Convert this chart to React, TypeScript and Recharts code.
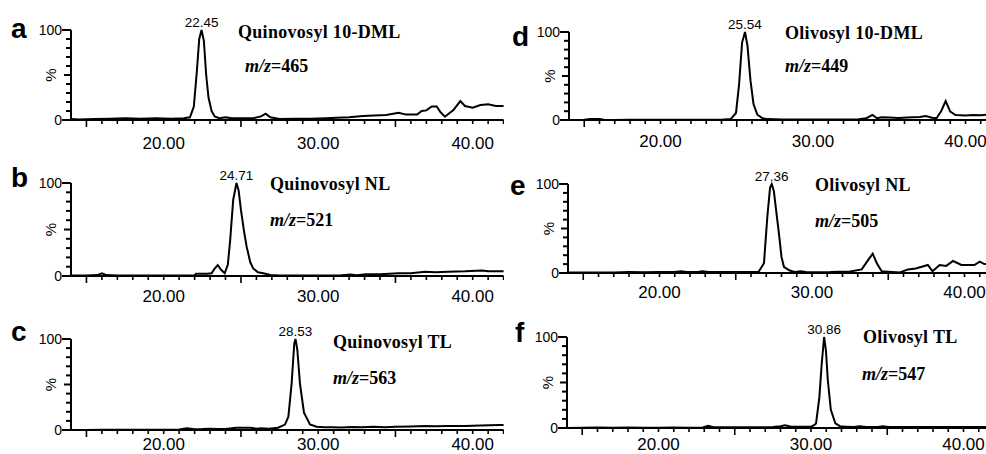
import { LineChart, Line, XAxis, YAxis, ReferenceDot } from 'recharts';

// retention time (min) vs relative intensity (%)
const traceA = [
  [14, 1], [14.5, 0.5], [15.5, 1], [16.5, 1.5], [17.5, 2], [18.5, 1.5], [19.5, 2], [20.5, 1.5], [21.3, 2], [21.7, 3],
  [21.95, 15], [22.15, 55], [22.3, 90], [22.45, 100], [22.6, 88], [22.75, 50], [22.9, 25], [23.1, 10], [23.3, 4], [23.6, 2],
  [24, 3], [24.4, 2], [25, 2], [25.8, 2], [26.3, 4], [26.6, 7], [26.9, 3], [27.5, 1], [28.5, 1.5], [29.5, 1.5],
  [30.5, 2], [31.2, 2.6], [32, 3], [32.9, 4.4], [33.6, 5], [34.4, 5.6], [35.2, 8], [35.7, 6], [36.4, 6], [36.7, 10],
  [37, 10.7], [37.35, 15], [37.67, 15], [37.9, 9], [38.2, 3.7], [38.75, 11], [39.2, 21], [39.5, 15.5], [40, 13.7], [40.5, 16.7],
  [41, 17.4], [41.5, 15.5], [42, 15.5],
];
const traceB = [
  [14, 0.5], [15, 0.5], [15.7, 1], [16, 3], [16.3, 1], [17, 0.5], [18, 0.5], [19, 0.5], [20, 0.5], [21, 0.5],
  [22, 0.8], [22.1, 2.5], [22.8, 2.5], [23.1, 3], [23.3, 8], [23.5, 11.8], [23.7, 7], [23.95, 3], [24.15, 12], [24.3, 38],
  [24.5, 82], [24.71, 100], [24.85, 92], [25, 71], [25.2, 48], [25.37, 31.5], [25.6, 15], [25.8, 8], [26.1, 4], [26.45, 3],
  [26.9, 1], [27.5, 0.5], [28.5, 0.5], [29.5, 0.5], [30.5, 0.5], [31.5, 0.8], [32.1, 1.5], [32.5, 0.8], [33.1, 2], [34, 2],
  [35.2, 3], [36, 3], [36.9, 4.5], [37.6, 4], [38.4, 4.5], [39.5, 5], [40.6, 6], [41, 5], [42, 5],
];
const traceC = [
  [14, 0], [15, 0], [16, 0.2], [17, 0.3], [18, 0.3], [19, 0.3], [20, 0.3], [21, 0.5], [21.5, 2], [22, 0.8],
  [22.5, 1], [23, 1.5], [23.5, 1], [24, 1.2], [24.7, 2.5], [25.6, 2.5], [26, 1.5], [26.3, 2], [26.8, 1.5], [27.4, 2.5],
  [27.85, 6], [28.07, 14.6], [28.28, 51], [28.45, 95], [28.53, 100], [28.65, 88], [28.82, 51], [29.08, 19], [29.47, 6], [29.9, 3.5],
  [30.4, 3], [30.9, 3], [31.5, 2.8], [32.2, 3.2], [32.8, 3], [33.6, 3.6], [34.3, 3], [35, 3.5], [36, 3.8], [36.9, 4.4],
  [37.6, 4], [38.3, 4.5], [39.5, 4.4], [40.5, 5], [41.7, 5.5], [42, 5.5],
];
const traceD = [
  [14, 0], [15, 0.3], [15.4, 1], [16, 1], [16.3, 0.3], [17, 0], [18, 0.2], [19, 0.2], [20, 0.2], [21, 0.2],
  [22, 0.2], [23, 0.3], [24, 0.3], [24.6, 1], [24.95, 8], [25.15, 40], [25.35, 88], [25.54, 100], [25.7, 85], [25.9, 45],
  [26.1, 18], [26.35, 6], [26.7, 2], [27, 1], [28, 0.5], [29, 0.5], [30, 0.5], [31, 0.5], [32, 0.5], [33, 0.8],
  [33.5, 2], [33.9, 5.7], [34.2, 2], [34.5, 3], [35, 2.8], [35.6, 2.3], [36.5, 3], [37, 3.5], [37.4, 4.5], [37.8, 2.6],
  [38.1, 2], [38.4, 10], [38.7, 21.6], [39, 9.5], [39.35, 5.7], [39.7, 5.5], [40, 5], [40.5, 5.7], [41, 5.5], [41.5, 6], [42, 6],
];
const traceE = [
  [14, 0.5], [15, 0.5], [16, 0.7], [17, 0.5], [18, 1], [19, 0.8], [20, 1], [21, 1], [21.4, 2], [21.8, 1],
  [22.5, 1.2], [22.8, 2], [23.2, 1], [24, 1], [25, 1], [26, 1], [26.5, 1.5], [26.85, 11], [27.07, 63], [27.25, 96],
  [27.36, 100], [27.5, 92], [27.65, 70], [27.83, 44.6], [28, 18], [28.16, 7], [28.5, 3], [28.9, 1], [29.24, 2], [29.6, 1],
  [30.5, 0.8], [31.2, 1], [31.7, 1.5], [32.5, 1.8], [33.26, 4], [33.7, 15], [33.98, 21.7], [34.25, 11], [34.57, 2], [35, 1.5],
  [35.77, 0.5], [36.3, 4], [36.8, 5], [37.2, 7], [37.6, 9], [37.9, 2], [38.37, 9], [38.8, 8], [39.25, 13.5], [39.8, 9],
  [40.3, 9], [40.65, 9], [41, 12.7], [41.3, 10], [42, 10],
];
const traceF = [
  [14, 0], [15, 0.2], [16, 0.5], [17, 0.3], [18, 0.5], [19, 0.3], [20, 0.3], [21, 0.5], [22, 0.3], [22.9, 0.5],
  [23.26, 2.5], [23.6, 0.8], [24.5, 0.8], [25.5, 0.8], [26.5, 0.8], [27.5, 1], [28, 2], [28.3, 3], [28.7, 1.5], [29.3, 1.5],
  [30, 1.5], [30.2, 3], [30.33, 5], [30.55, 34], [30.7, 70], [30.86, 100], [30.98, 85], [31.1, 53], [31.3, 20], [31.6, 5],
  [31.9, 2], [32.3, 1.5], [32.8, 1], [33.2, 2], [33.6, 1], [34.4, 1], [34.7, 2], [35.1, 1], [36, 1], [37, 1],
  [38, 1], [39, 1.2], [40, 1], [41, 1], [42, 1.2],
];

const peaks = [22.45, 24.71, 28.53, 25.54, 27.36, 30.86];
const letters = ['a', 'b', 'c', 'd', 'e', 'f'];
const titles = ['Quinovosyl 10-DML', 'Quinovosyl NL', 'Quinovosyl TL', 'Olivosyl 10-DML', 'Olivosyl NL', 'Olivosyl TL'];
const mzValues = [465, 521, 563, 449, 505, 547];

const xTicks = [15, 16, 17, 18, 19, 20, 21, 22, 23, 24, 25, 26, 27, 28, 29, 30, 31, 32, 33, 34, 35, 36, 37, 38, 39, 40, 41, 42];
const xLabelTicks = [20, 30, 40];
const yTicks = [0, 10, 20, 30, 40, 50, 60, 70, 80, 90, 100];

const SANS = '"Liberation Sans", Arial, sans-serif';
const SERIF = '"Liberation Serif", "Times New Roman", serif';

// layout: y-axis x, y of 100 %, y of 0 %, px per minute, x label baseline offset, text spots
const panels = [
  { trace: traceA, axisX: 71, top: 30, bottom: 120, ppu: 15.45, labelDy: 29, letter: [11, 38], title: [238, 38], mz: [245, 72] },
  { trace: traceB, axisX: 71, top: 183, bottom: 276, ppu: 15.45, labelDy: 26, letter: [11, 187], title: [270, 190], mz: [270, 226] },
  { trace: traceC, axisX: 71, top: 339, bottom: 430, ppu: 15.45, labelDy: 20, letter: [11, 341], title: [333, 348], mz: [333, 384] },
  { trace: traceD, axisX: 569, top: 32, bottom: 120, ppu: 15.25, labelDy: 27, letter: [512, 46], title: [785, 39], mz: [785, 72] },
  { trace: traceE, axisX: 568, top: 184, bottom: 273, ppu: 15.25, labelDy: 25, letter: [510, 195], title: [815, 191], mz: [815, 227] },
  { trace: traceF, axisX: 567, top: 337, bottom: 428, ppu: 15.25, labelDy: 22, letter: [515, 342], title: [863, 343], mz: [862, 380] },
];

const Y_W = 40;
const TOP_M = 20;
const X_H = 34;

function XTick({ x, y, payload, labelDy }: any) {
  const v = payload.value;
  const len = v % 5 === 0 && v % 10 !== 0 ? 7 : 4;
  return (
    <g>
      <line x1={x} x2={x} y1={y} y2={y + len} stroke="#000" strokeWidth={1.6} />
      {xLabelTicks.includes(v) && (
        <text x={x} y={y + labelDy} textAnchor="middle" fontSize={17} fontFamily={SANS} fill="#000">
          {v.toFixed(2)}
        </text>
      )}
    </g>
  );
}

function YTick({ x, y, payload }: any) {
  const v = Math.round(payload.value);
  const len = v === 0 || v === 100 ? 9 : v === 50 ? 7 : 5;
  return (
    <g>
      <path d={`M${x - len},${y}H${x}`} stroke="#000" strokeWidth={2} fill="none" />
      {(v === 0 || v === 100) && (
        <text x={x - 9} y={y + 5} textAnchor="end" fontSize={14} fontFamily={SANS} fill="#000">{v}</text>
      )}
      {v === 50 && (
        <text x={x - 20} y={y} textAnchor="middle" dominantBaseline="central" fontSize={15} fontFamily={SANS} fill="#000" transform={`rotate(-90 ${x - 20} ${y})`}>%</text>
      )}
    </g>
  );
}

function Panel({ i }: { i: number }) {
  const p = panels[i];
  const data = p.trace.map(([t, v]) => ({ t, v }));
  const plotW = 28 * p.ppu;
  const plotH = p.bottom - p.top;
  const width = Y_W + plotW;
  const height = TOP_M + plotH + X_H;
  return (
    <div style={{ position: 'absolute', left: p.axisX - Y_W, top: p.top - TOP_M }}>
      <LineChart width={width} height={height} data={data} margin={{ top: TOP_M, right: 0, bottom: 0, left: 0 }}>
        <XAxis
          dataKey="t" type="number" domain={[14, 42]} ticks={xTicks} interval={0}
          height={X_H} tickSize={0} tickMargin={0} tickLine={false}
          axisLine={{ stroke: '#000', strokeWidth: 2 }}
          tick={(props: any) => <XTick {...props} labelDy={p.labelDy} />}
        />
        <YAxis
          type="number" domain={[0, 100]} ticks={yTicks} tickCount={11} interval={0} minTickGap={0}
          width={Y_W} tickSize={0} tickMargin={0} tickLine={false}
          axisLine={{ stroke: '#000', strokeWidth: 2 }}
          tick={(props: any) => <YTick {...props} />}
        />
        <Line dataKey="v" type="linear" dot={false} stroke="#000" strokeWidth={2} isAnimationActive={false} />
        <ReferenceDot
          x={peaks[i]} y={100} r={0} fill="none" stroke="none" ifOverflow="visible"
          label={{ value: peaks[i].toFixed(2), position: 'top', offset: 3, fontSize: 13.5, fill: '#000', fontFamily: SANS }}
        />
      </LineChart>
    </div>
  );
}

export default function App() {
  return (
    <div style={{ position: 'absolute', left: 0, top: 0, width: 986, height: 454, overflow: 'hidden', background: '#fff' }}>
      {panels.map((_, i) => <Panel key={i} i={i} />)}
      <svg width={986} height={454} style={{ position: 'absolute', left: 0, top: 0, pointerEvents: 'none' }}>
        {panels.map((p, i) => (
          <g key={i}>
            <text x={p.letter[0]} y={p.letter[1]} fontSize={28} fontWeight="bold" fontFamily={SANS} fill="#000">{letters[i]}</text>
            <text x={p.title[0]} y={p.title[1]} fontSize={18} fontWeight="bold" fontFamily={SERIF} fill="#000" letterSpacing={0.3}>{titles[i]}</text>
            <text x={p.mz[0]} y={p.mz[1]} fontSize={18} fontWeight="bold" fontFamily={SERIF} fill="#000">
              <tspan fontStyle="italic">m/z</tspan>={mzValues[i]}
            </text>
          </g>
        ))}
      </svg>
    </div>
  );
}
